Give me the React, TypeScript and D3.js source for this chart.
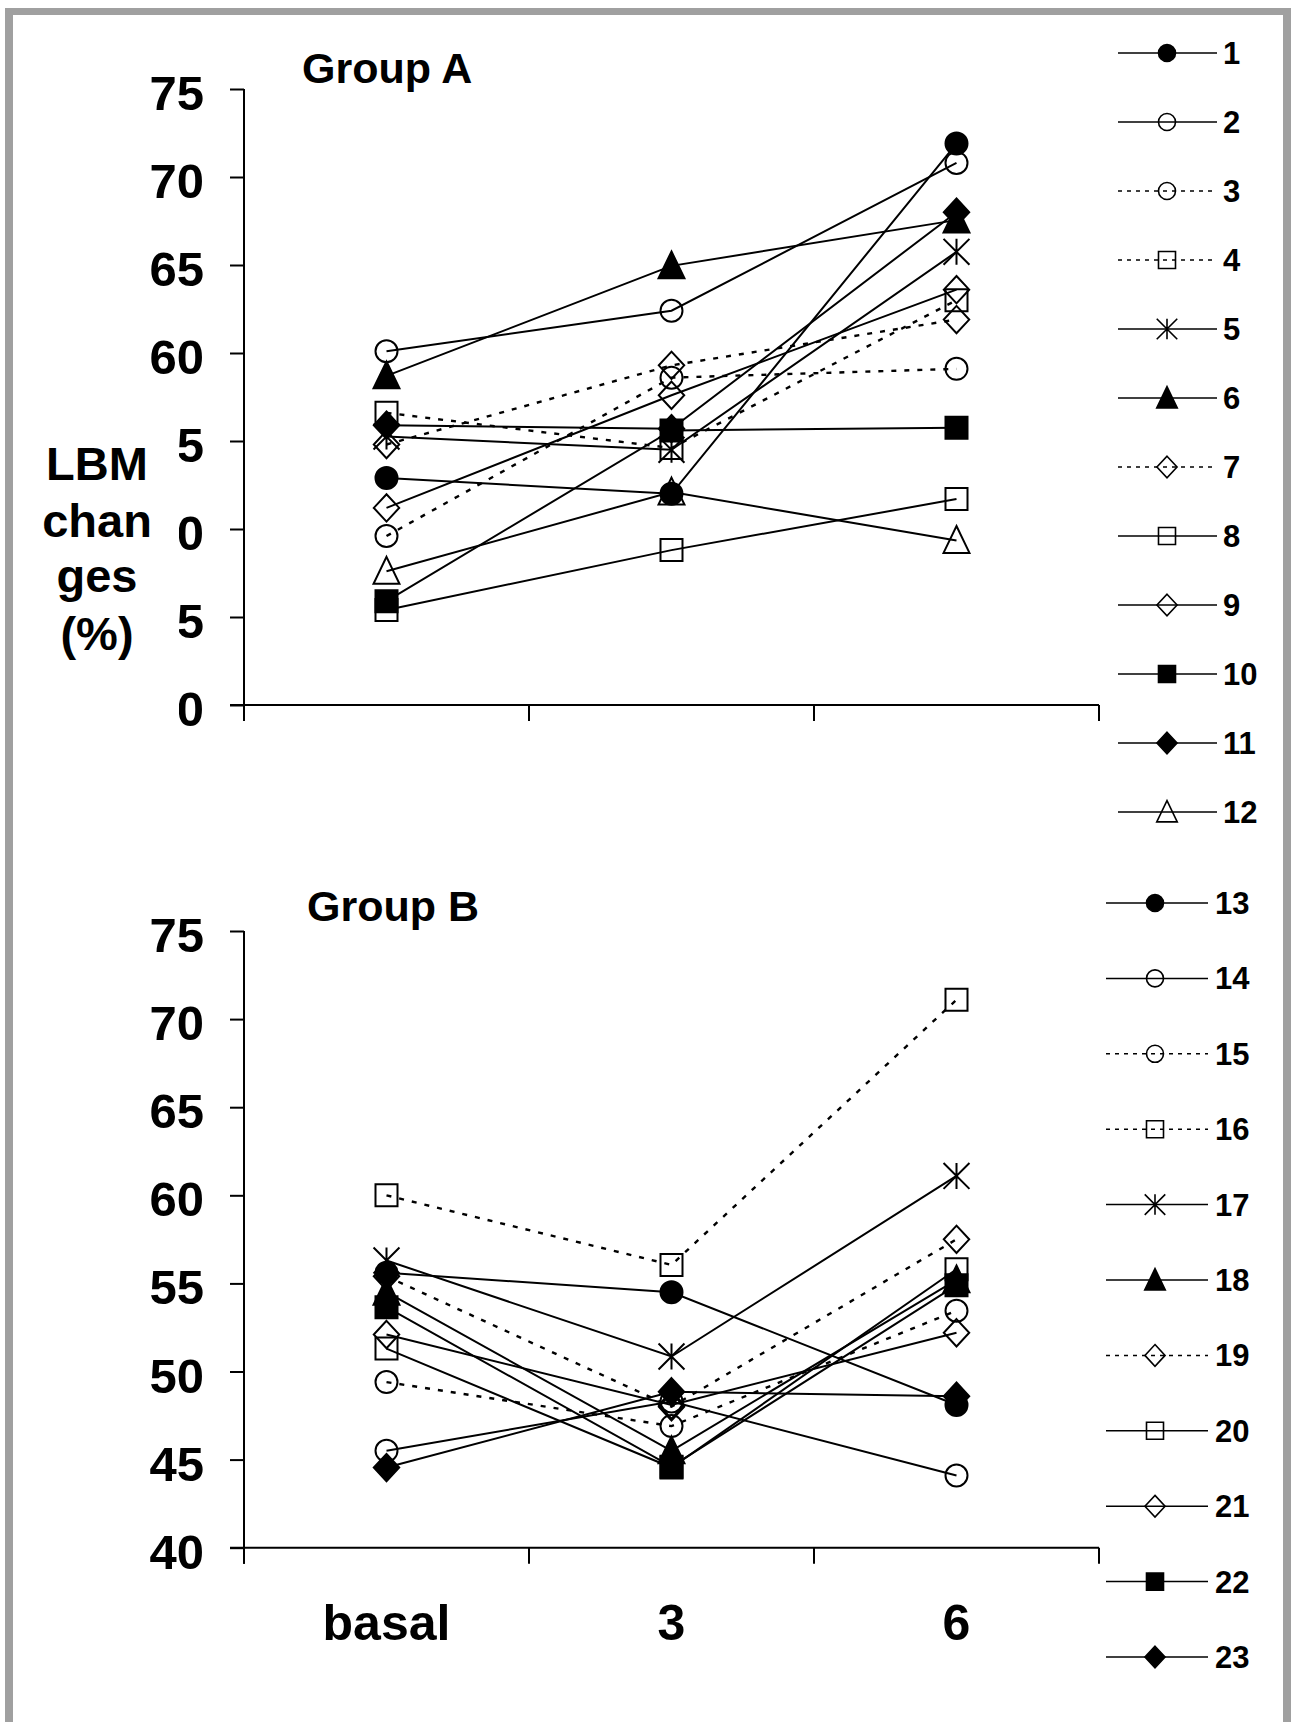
import React, { useRef, useEffect } from "react";
import * as d3 from "d3";

// categories (x) and y ticks
const categories = ["basal", "3", "6"];
const yTickValues = [40, 45, 50, 55, 60, 65, 70, 75];

// Group A, subjects 1-12
const subjectsA = ["1", "2", "3", "4", "5", "6", "7", "8", "9", "10", "11", "12"];
const basalA = [52.9, 60.1, 49.6, 56.6, 55.25, 58.7, 54.8, 45.4, 51.2, 45.9, 55.9, 47.6];
const month3A = [52.0, 62.4, 58.6, 54.6, 54.5, 64.95, 59.3, 48.8, 57.6, 55.6, 55.7, 52.1];
const month6A = [71.9, 70.8, 59.1, 63.0, 65.75, 67.55, 61.9, 51.7, 63.6, 55.75, 68.0, 49.35];

// Group B, subjects 13-23
const subjectsB = ["13", "14", "15", "16", "17", "18", "19", "20", "21", "22", "23"];
const basalB = [55.6, 45.5, 49.4, 60.0, 56.3, 54.5, 55.4, 51.3, 52.1, 53.65, 44.55];
const month3B = [54.5, 48.3, 46.9, 56.05, 50.85, 45.5, 48.0, 44.55, 48.1, 44.6, 48.85];
const month6B = [48.1, 44.1, 53.45, 71.1, 61.1, 55.2, 57.5, 55.8, 52.2, 54.9, 48.6];

// marker style per position in the legend (same sequence in both groups)
const markerTypes = ["circle", "circle", "circle", "square", "asterisk", "triangle", "diamond", "square", "diamond", "square", "diamond", "triangle"];
const markerFilled = [true, false, false, false, false, true, false, false, false, true, true, false];
const lineDotted = [false, false, true, true, false, false, true, false, false, false, false, false];

const FONT = "'Liberation Sans', Arial, Helvetica, sans-serif";

const markerPath = (type: string, s: number) => {
  const h = s / 2;
  if (type === "circle") return `M${-h + 1},0A${h - 1},${h - 1} 0 1,0 ${h - 1},0A${h - 1},${h - 1} 0 1,0 ${-h + 1},0Z`;
  if (type === "square") return `M${-h + 1},${-h + 1}H${h - 1}V${h - 1}H${-h + 1}Z`;
  if (type === "diamond") return `M0,${-s * 0.57}L${s * 0.53},0L0,${s * 0.57}L${-s * 0.53},0Z`;
  if (type === "triangle") return `M0,${-s * 0.6}L${s * 0.54},${s * 0.52}L${-s * 0.54},${s * 0.52}Z`;
  // asterisk
  const a = s * 0.54;
  return `M0,${-a}V${a}M${-a},${-a}L${a},${a}M${-a},${a}L${a},${-a}`;
};

export default function App() {
  const chartRef = useRef<SVGSVGElement | null>(null);

  useEffect(() => {
    const svg = d3.select(chartRef.current);
    svg.selectAll("*").remove();

    // background + grey frame
    svg.append("rect").attr("width", 1291).attr("height", 1722).attr("fill", "#fff");
    svg.append("rect").attr("x", 5).attr("y", 8).attr("width", 1286).attr("height", 7).attr("fill", "#a0a0a0");
    svg.append("rect").attr("x", 5).attr("y", 8).attr("width", 8).attr("height", 1714).attr("fill", "#a0a0a0");
    svg.append("rect").attr("x", 1283).attr("y", 8).attr("width", 8).attr("height", 1714).attr("fill", "#a0a0a0");

    const x = d3.scaleBand().domain(categories).range([244, 1099]).padding(0);

    const drawPanel = (
      yTop: number,
      yBottom: number,
      basal: number[],
      m3: number[],
      m6: number[],
      title: string,
      titleX: number,
      titleY: number,
      showXLabels: boolean
    ) => {
      const y = d3.scaleLinear().domain([40, 75]).range([yBottom, yTop]);
      const g = svg.append("g");

      // y axis
      const yAxis = g
        .append("g")
        .attr("transform", `translate(${x.range()[0]},0)`)
        .call(d3.axisLeft(y).tickValues(yTickValues).tickSize(14).tickSizeOuter(0).tickPadding(26).tickFormat(d3.format("d")));
      yAxis.select(".domain").remove();
      yAxis.selectAll(".tick line").attr("stroke", "#000").attr("stroke-width", 2);
      yAxis
        .selectAll(".tick text")
        .attr("fill", "#000")
        .attr("dy", "0.42em")
        .style("font-family", FONT)
        .style("font-size", "49px")
        .style("font-weight", "bold");
      g.append("line")
        .attr("x1", x.range()[0]).attr("x2", x.range()[0])
        .attr("y1", yTop).attr("y2", yBottom + 16)
        .attr("stroke", "#000").attr("stroke-width", 2);

      // x axis with ticks at band edges
      g.append("line")
        .attr("x1", x.range()[0] - 14).attr("x2", x.range()[1])
        .attr("y1", yBottom).attr("y2", yBottom)
        .attr("stroke", "#000").attr("stroke-width", 2);
      g.selectAll(".xtick")
        .data(d3.range(categories.length + 1))
        .enter()
        .append("line")
        .attr("x1", (i) => x.range()[0] + i * x.step())
        .attr("x2", (i) => x.range()[0] + i * x.step())
        .attr("y1", yBottom)
        .attr("y2", yBottom + 16)
        .attr("stroke", "#000").attr("stroke-width", 2);

      if (showXLabels) {
        const xAxis = g
          .append("g")
          .attr("transform", `translate(0,${yBottom})`)
          .call(d3.axisBottom(x).tickSize(0).tickSizeOuter(0));
        xAxis.select(".domain").remove();
        xAxis
          .selectAll(".tick text")
          .attr("y", 92)
          .attr("dy", 0)
          .attr("fill", "#000")
          .style("font-family", FONT)
          .style("font-size", "50px")
          .style("font-weight", "bold");
      }

      // title
      g.append("text")
        .attr("x", titleX).attr("y", titleY)
        .style("font-family", FONT).style("font-size", "43px").style("font-weight", "bold")
        .text(title);

      // series
      const cx = (i: number) => (x(categories[i]) as number) + x.bandwidth() / 2;
      const line = d3.line<number>().x((d, i) => cx(i)).y((d) => y(d));
      const series = basal.map((b, i) => [b, m3[i], m6[i]]);

      g.selectAll(".series")
        .data(series)
        .enter()
        .append("path")
        .attr("d", (d) => line(d))
        .attr("fill", "none")
        .attr("stroke", "#000")
        .attr("stroke-width", (d, i) => (lineDotted[i] ? 2.4 : 2))
        .attr("stroke-dasharray", (d, i) => (lineDotted[i] ? "5,8" : null));

      series.forEach((vals, si) => {
        vals.forEach((v, ci) => {
          g.append("path")
            .attr("transform", `translate(${cx(ci)},${y(v)})`)
            .attr("d", markerPath(markerTypes[si], 24))
            .attr("fill", markerFilled[si] ? "#000" : "none")
            .attr("stroke", "#000")
            .attr("stroke-width", 2);
        });
      });
    };

    drawPanel(89, 705, basalA, month3A, month6A, "Group A", 302, 83, false);
    drawPanel(931, 1547.7, basalB, month3B, month6B, "Group B", 307, 921, true);

    // y axis title (its box hides the tens digits of the lower labels)
    svg.append("rect").attr("x", 14).attr("y", 398).attr("width", 165).attr("height", 332).attr("fill", "#fff");
    const titleLines = ["LBM", "chan", "ges", "(%)"];
    const titleBase = [480, 537, 592, 650];
    svg.selectAll(".ytitle")
      .data(titleLines)
      .enter()
      .append("text")
      .attr("x", 97)
      .attr("y", (d, i) => titleBase[i])
      .attr("text-anchor", "middle")
      .style("font-family", FONT).style("font-size", "47px").style("font-weight", "bold")
      .text((d) => d);

    // legends
    const drawLegend = (names: string[], x1: number, x2: number, xm: number, xt: number, y0: number, step: number) => {
      names.forEach((name, i) => {
        const yy = y0 + i * step;
        svg.append("line")
          .attr("x1", x1).attr("x2", x2).attr("y1", yy).attr("y2", yy)
          .attr("stroke", "#000").attr("stroke-width", 1.5)
          .attr("stroke-dasharray", lineDotted[i] ? "4,5" : null);
        svg.append("path")
          .attr("transform", `translate(${xm},${yy})`)
          .attr("d", markerPath(markerTypes[i], 19))
          .attr("fill", markerFilled[i] ? "#000" : "none")
          .attr("stroke", "#000").attr("stroke-width", 1.6);
        svg.append("text")
          .attr("x", xt).attr("y", yy + 11)
          .style("font-family", FONT).style("font-size", "31px").style("font-weight", "bold")
          .text(name);
      });
    };
    drawLegend(subjectsA, 1118, 1217, 1167, 1223, 53, 69);
    drawLegend(subjectsB, 1106, 1208, 1155, 1215, 903, 75.4);
  }, []);

  return (
    <div style={{ position: "absolute", left: 0, top: 0 }}>
      <svg ref={chartRef} width={1291} height={1722} style={{ display: "block" }} />
    </div>
  );
}
